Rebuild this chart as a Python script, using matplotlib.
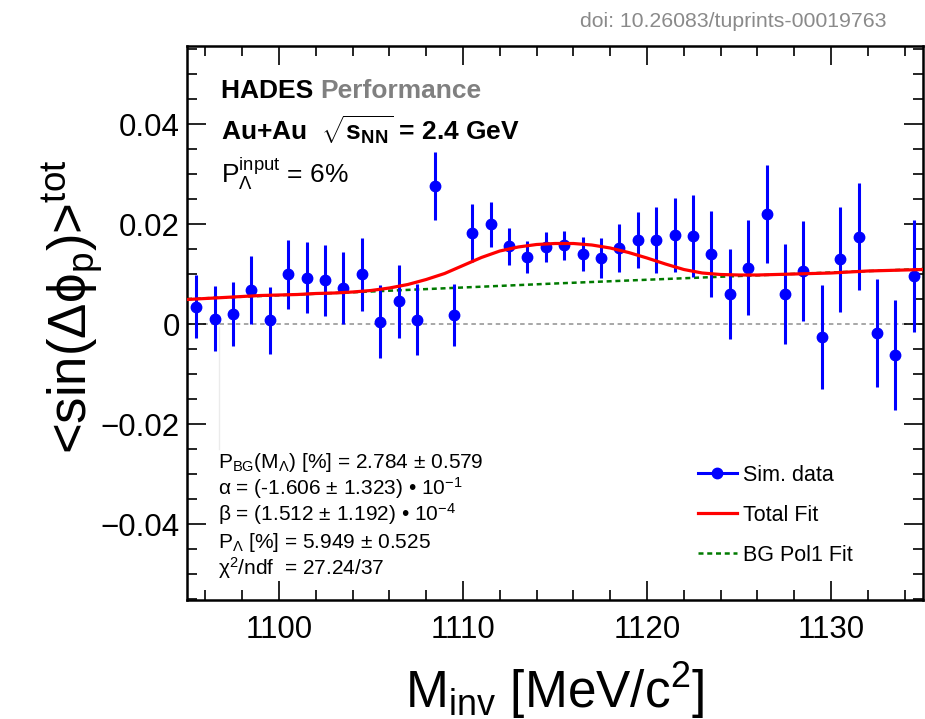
import matplotlib
matplotlib.use('Agg')
import matplotlib.pyplot as plt
from matplotlib.lines import Line2D
from matplotlib.ticker import MultipleLocator, FuncFormatter

plt.rcParams['font.family'] = ['Liberation Sans', 'DejaVu Sans']
plt.rcParams['mathtext.fontset'] = 'custom'
plt.rcParams['mathtext.rm'] = 'Liberation Sans'
plt.rcParams['mathtext.it'] = 'Liberation Sans:italic'
plt.rcParams['mathtext.bf'] = 'Liberation Sans:bold'
plt.rcParams['mathtext.default'] = 'rm'

# ---------------- data ----------------
m_inv = [1095.5, 1096.5, 1097.5, 1098.5, 1099.5, 1100.5, 1101.5, 1102.5, 1103.5, 1104.5,
         1105.5, 1106.5, 1107.5, 1108.5, 1109.5, 1110.5, 1111.5, 1112.5, 1113.5, 1114.5,
         1115.5, 1116.5, 1117.5, 1118.5, 1119.5, 1120.5, 1121.5, 1122.5, 1123.5, 1124.5,
         1125.5, 1126.5, 1127.5, 1128.5, 1129.5, 1130.5, 1131.5, 1132.5, 1133.5, 1134.5]
sim_values = [0.0035, 0.0011, 0.0021, 0.0068, 0.0008, 0.0100, 0.0093, 0.0088, 0.0073, 0.0100,
              0.0005, 0.0046, 0.0009, 0.0276, 0.0019, 0.0183, 0.0200, 0.0156, 0.0135, 0.0155,
              0.0158, 0.0141, 0.0133, 0.0153, 0.0169, 0.0169, 0.0178, 0.0176, 0.0141, 0.0060,
              0.0113, 0.0220, 0.0060, 0.0106, -0.0025, 0.0130, 0.0175, -0.0017, -0.0062, 0.0096]
sim_errors = [0.0063, 0.0065, 0.0064, 0.0068, 0.0067, 0.0069, 0.0071, 0.0071, 0.0072, 0.0073,
              0.0073, 0.0073, 0.0071, 0.0068, 0.0062, 0.0058, 0.0045, 0.0037, 0.0032, 0.0030,
              0.0029, 0.0034, 0.0040, 0.0048, 0.0056, 0.0066, 0.0074, 0.0082, 0.0086, 0.0090,
              0.0095, 0.0098, 0.0100, 0.0100, 0.0104, 0.0105, 0.0107, 0.0108, 0.0110, 0.0112]

fit_x = [1095, 1096, 1097, 1098, 1099, 1100, 1101, 1102, 1103, 1104, 1105, 1106, 1107, 1108,
         1109, 1110, 1111, 1112, 1113, 1114, 1115, 1116, 1117, 1118, 1119, 1120, 1121, 1122,
         1123, 1124, 1125, 1126, 1127, 1128, 1129, 1130, 1131, 1132, 1133, 1134, 1135]
total_fit = [0.0049, 0.0051, 0.0053, 0.0055, 0.0057, 0.0058, 0.0059, 0.0061, 0.0062, 0.0064,
             0.0067, 0.0072, 0.0079, 0.0089, 0.0101, 0.0117, 0.0133, 0.0146, 0.0154, 0.0159,
             0.0161, 0.0161, 0.0158, 0.0152, 0.0143, 0.0132, 0.0120, 0.0109, 0.0102, 0.0099,
             0.0098, 0.0098, 0.0099, 0.0100, 0.0101, 0.0102, 0.0104, 0.0106, 0.0107, 0.0108,
             0.0109]

bg_x = [1095, 1105, 1115, 1125, 1135]
bg_fit = [0.0050, 0.0065, 0.0081, 0.0096, 0.0110]

x_ticks = [1100, 1110, 1120, 1130]
y_ticks = [-0.04, -0.02, 0.0, 0.02, 0.04]

# ---------------- figure ----------------
W, H = 925, 719
fig = plt.figure(figsize=(W / 100, H / 100), dpi=100)
ax = fig.add_axes([187 / W, 1 - 600 / H, 736 / W, 554 / H])

ax.axhline(0.0, color='#a0a0a0', lw=1.3, ls=(0, (2.5, 2)), zorder=1)
ax.plot([1096.75, 1096.75], [-0.0006, -0.025], color='#ebebeb', lw=1.0, zorder=0)

ax.errorbar(m_inv, sim_values, yerr=sim_errors, fmt='o', color='#0000ff',
            ms=7.5, elinewidth=2.2, capsize=0, zorder=3)
bg_line, = ax.plot(bg_x, bg_fit, color='#007a00', lw=1.8, ls=(0, (2.0, 1.5)), zorder=2)
tot_line, = ax.plot(fit_x, total_fit, color='#ff0000', lw=2.3, zorder=4)

ax.set_xlim(1095, 1135)
ax.set_ylim(-0.0552, 0.0556)
ax.set_xticks(x_ticks)
ax.set_yticks(y_ticks)
ax.xaxis.set_minor_locator(MultipleLocator(2))
ax.yaxis.set_minor_locator(MultipleLocator(0.005))
ax.yaxis.set_major_formatter(FuncFormatter(
    lambda v, _: '0' if abs(v) < 1e-9 else ('%.2f' % v).replace('-', '\u2212')))
ax.tick_params(which='both', direction='in', top=True, right=True, width=1.2,
               labelsize=22.5)
ax.tick_params(which='major', length=14)
ax.tick_params(which='minor', length=7)
ax.tick_params(axis='x', pad=11)
ax.tick_params(axis='y', pad=5)
for s in ax.spines.values():
    s.set_linewidth(1.8)

ax.set_xlabel(r'M$_{\mathrm{inv}}$ [MeV/c$^{2}$]', fontsize=37)
ax.xaxis.set_label_coords(0.5, -0.194)
ax.xaxis.label.set_va('baseline')
ax.set_ylabel('<sin(\u0394\u03d5$_{\\mathrm{p}}$)>$^{\\mathrm{tot}}$', fontsize=38)
ax.yaxis.set_label_coords(-0.156, 0.53)
ax.yaxis.label.set_va('center')

# header texts
t1 = ax.text(0.046, 0.906, 'HADES ', transform=ax.transAxes, fontsize=19,
             fontweight='bold', color='black', va='baseline', ha='left')
ax.annotate('Performance', xy=(1, 0), xycoords=t1, fontsize=19, fontweight='bold',
            color='#808080', va='bottom', ha='left')
ax.text(0.046, 0.830, r'Au+Au  $\sqrt{\mathbf{s}_{\mathbf{NN}}}$ = 2.4 GeV',
        transform=ax.transAxes, fontsize=19, fontweight='bold', va='baseline', ha='left')
ax.text(0.046, 0.753, r'P$_{\Lambda}^{\mathrm{input}}$ = 6%', transform=ax.transAxes,
        fontsize=19, va='baseline', ha='left')

stats = [r'P$_{\mathrm{BG}}$(M$_{\Lambda}$) [%] = 2.784 $\pm$ 0.579',
         '\u03b1 = (-1.606 $\\pm$ 1.323) \u2022 10$^{-1}$',
         '\u03b2 = (1.512 $\\pm$ 1.192) \u2022 10$^{-4}$',
         r'P$_{\Lambda}$ [%] = 5.949 $\pm$ 0.525',
         '\u03c7$^{2}$/ndf  = 27.24/37']
stat_y = [0.238, 0.190, 0.143, 0.094, 0.045]
for s, yy in zip(stats, stat_y):
    ax.text(0.042, yy, s, transform=ax.transAxes, fontsize=15, va='baseline', ha='left')

data_handle = Line2D([], [], color='#0000ff', marker='o', ms=7.5, lw=2.2)
ax.legend([data_handle, tot_line, bg_line], ['Sim. data', 'Total Fit', 'BG Pol1 Fit'],
          loc='upper left', bbox_to_anchor=(0.694, 0.244), frameon=False, fontsize=15.5,
          borderpad=0, borderaxespad=0, handlelength=1.8, handletextpad=0.3,
          labelspacing=0.88)

fig.text(886 / W, 1 - 27 / H, 'doi: 10.26083/tuprints-00019763', fontsize=15.3,
         color='#8a8a8a', ha='right', va='baseline')

fig.savefig('out.png', dpi=100)
